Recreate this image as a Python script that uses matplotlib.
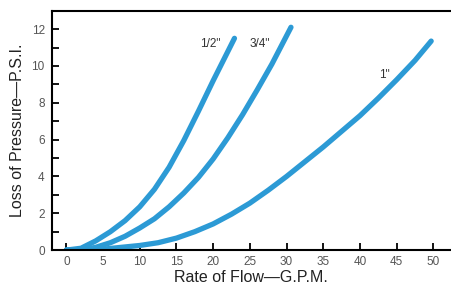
"""Pressure loss vs. flow rate for three pipe sizes."""

import matplotlib

matplotlib.use("Agg")
import matplotlib.pyplot as plt
from matplotlib.ticker import MultipleLocator

# Values
flow_half = [0, 2, 4, 6, 8, 10, 12, 14, 16, 18, 20, 22.9]
loss_half = [0, 0.1, 0.5, 1.0, 1.6, 2.35, 3.3, 4.5, 5.95, 7.55, 9.2, 11.5]

flow_three_q = [0, 2, 4, 6, 8, 10, 12, 14, 16, 18, 20, 22, 24, 26, 28, 30.6]
loss_three_q = [0, 0, 0.15, 0.4, 0.75, 1.2, 1.7, 2.35, 3.1, 3.95, 4.95, 6.1, 7.35, 8.7, 10.1, 12.1]

flow_one = [0, 5, 10, 12.5, 15, 17.5, 20, 22.5, 25, 27.5, 30, 32.5, 35, 37.5, 40, 42.5, 45, 47.5, 49.7]
loss_one = [0, 0.05, 0.25, 0.4, 0.65, 1.0, 1.42, 1.95, 2.55, 3.25, 4.0, 4.8, 5.6, 6.45, 7.3, 8.25, 9.25, 10.3, 11.35]

series = [
    (flow_half, loss_half, '1/2"', (19.6, 11.2)),
    (flow_three_q, loss_three_q, '3/4"', (26.3, 11.2)),
    (flow_one, loss_one, '1"', (43.3, 9.5)),
]

plt.rcParams["font.family"] = ["Liberation Sans", "DejaVu Sans"]

fig = plt.figure(figsize=(4.51, 2.97), dpi=100)
ax = fig.add_axes([0.1146, 0.158, 0.8854, 0.806])

line_color = "#2c9ad5"
for x, y, label, (lx, ly) in series:
    ax.plot(x, y, color=line_color, linewidth=3.8, solid_capstyle="round",
            solid_joinstyle="round")
    ax.text(lx, ly, label, fontsize=8.5, color="#333333", ha="center", va="center")

ax.set_xlim(-2.0, 52.4)
ax.set_ylim(0, 13)

ax.set_xticks(range(0, 51, 5))
ax.set_yticks(range(0, 13, 2))
ax.yaxis.set_minor_locator(MultipleLocator(1))

ax.tick_params(axis="both", which="both", direction="in", length=5, width=1.3,
               labelsize=8.5, colors="black")
ax.tick_params(axis="x", pad=4)
ax.tick_params(axis="y", pad=5)
for lbl in ax.get_xticklabels() + ax.get_yticklabels():
    lbl.set_color("#555555")

for side in ["left", "top", "bottom"]:
    ax.spines[side].set_linewidth(1.5)
ax.spines["right"].set_visible(False)

ax.set_xlabel("Rate of Flow\u2014G.P.M.", fontsize=11.5, color="#222222", labelpad=2)
ax.set_ylabel("Loss of Pressure\u2014P.S.I.", fontsize=11.5, color="#222222", labelpad=5)

fig.savefig("out.png", dpi=100)
